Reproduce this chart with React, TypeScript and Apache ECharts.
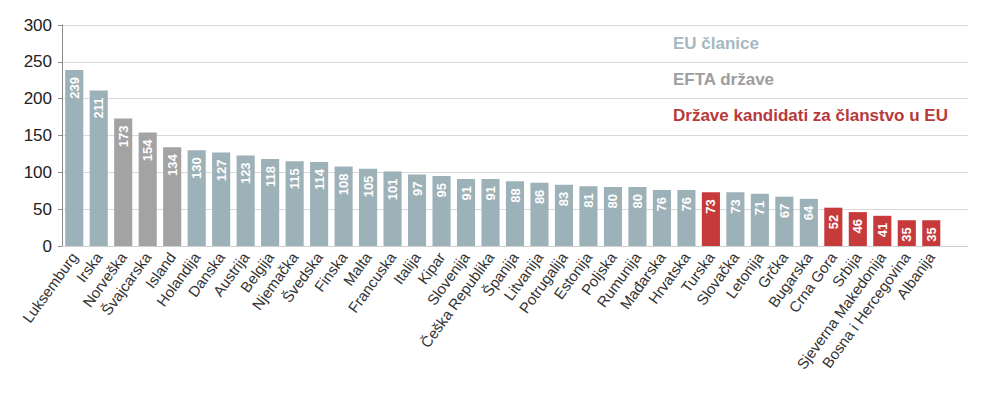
import React, { useEffect, useRef } from "react";
import * as echarts from "echarts";

const categories = [
  "Luksemburg", "Irska", "Norveška", "Švajcarska", "Island", "Holandija", "Danska", "Austrija",
  "Belgija", "Njemačka", "Švedska", "Finska", "Malta", "Francuska", "Italija", "Kipar",
  "Slovenija", "Češka Republika", "Španija", "Litvanija", "Potrugalija", "Estonija", "Poljska",
  "Rumunija", "Mađarska", "Hrvatska", "Turska", "Slovačka", "Letonija", "Grčka", "Bugarska",
  "Crna Gora", "Srbija", "Sjeverna Makedonija", "Bosna i Hercegovina", "Albanija",
];
const values = [
  239, 211, 173, 154, 134, 130, 127, 123, 118, 115, 114, 108, 105, 101, 97, 95, 91, 91, 88, 86,
  83, 81, 80, 80, 76, 76, 73, 73, 71, 67, 64, 52, 46, 41, 35, 35,
];
// 0 = EU, 1 = EFTA, 2 = candidate
const groups = [
  0, 0, 1, 1, 1, 0, 0, 0, 0, 0, 0, 0, 0, 0, 0, 0, 0, 0, 0, 0, 0, 0, 0, 0, 0, 0, 2, 0, 0, 0, 0,
  2, 2, 2, 2, 2,
];
const groupNames = ["EU članice", "EFTA države", "Države kandidati za članstvo u EU"];
const barColors = ["#9DB1B8", "#A3A3A3", "#C73A3C"];
const legendColors = ["#A6B8BF", "#9E9E9E", "#B8393A"];
const yTicks = { min: 0, max: 300, interval: 50 };

const FONT = "'Liberation Sans', Arial, sans-serif";

export default function App() {
  const ref = useRef<HTMLDivElement>(null);
  useEffect(() => {
    document.body.style.margin = "0";
    const chart = echarts.init(ref.current!, null, { renderer: "svg" });
    chart.setOption({
      animation: false,
      textStyle: { fontFamily: FONT },
      grid: { left: 62, right: 32, top: 25, bottom: 152 },
      xAxis: {
        type: "category",
        // trailing empty slot: the reference axis runs one category past the last bar
        data: [...categories, ""],
        axisLine: { lineStyle: { color: "#CFCFCF" } },
        axisTick: { show: false },
        axisLabel: { rotate: 54, fontSize: 15, color: "#333", interval: 0, margin: 8, fontFamily: FONT },
      },
      yAxis: {
        type: "value",
        min: yTicks.min,
        max: yTicks.max,
        interval: yTicks.interval,
        axisLine: { show: true, lineStyle: { color: "#8C8C8C" } },
        axisTick: { show: true, length: 4, lineStyle: { color: "#8C8C8C" } },
        axisLabel: { fontSize: 17, color: "#222", margin: 10, fontFamily: FONT },
        splitLine: { lineStyle: { color: "#D9D9D9" } },
      },
      series: [
        {
          type: "bar",
          barCategoryGap: "26%",
          data: values.map((v, i) => ({ value: v, itemStyle: { color: barColors[groups[i]] } })),
          label: {
            show: true,
            position: "insideTop",
            rotate: 90,
            align: "right",
            verticalAlign: "middle",
            distance: 7,
            color: "#fff",
            fontWeight: "bold",
            fontSize: 13,
            fontFamily: FONT,
          },
        },
      ],
      graphic: groupNames.map((name, i) => ({
        type: "text",
        left: 673,
        top: [35, 71, 107][i],
        style: {
          text: name,
          fill: legendColors[i],
          fontSize: 17,
          fontWeight: "bold",
          fontFamily: FONT,
        },
      })),
    });
    return () => chart.dispose();
  }, []);
  return <div ref={ref} style={{ width: 1000, height: 398 }} />;
}
